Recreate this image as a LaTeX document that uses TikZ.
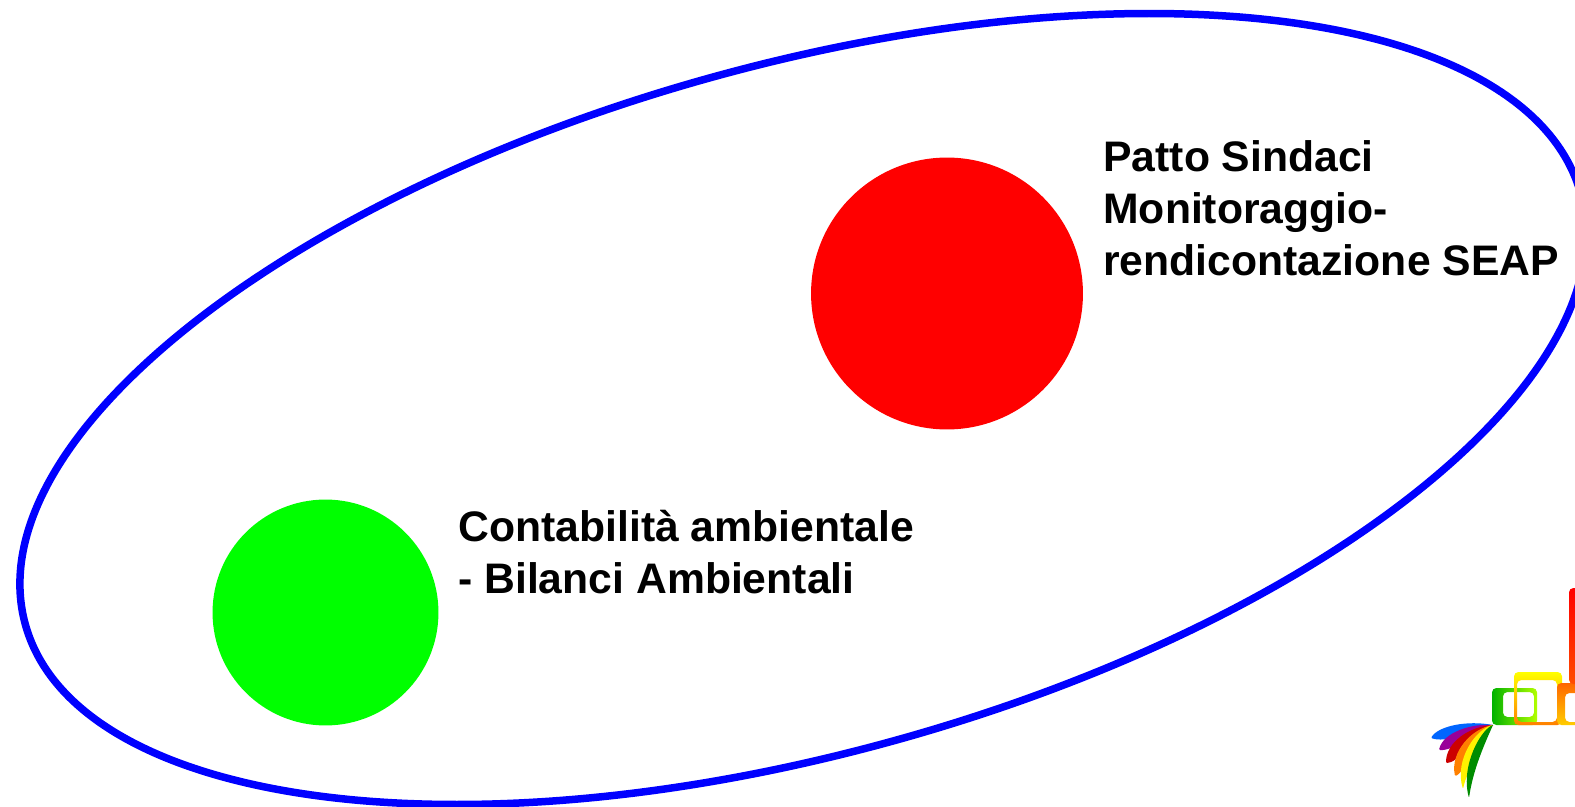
\documentclass[tikz,border=0pt]{standalone}
\usepackage{fontspec}
\setmainfont{Liberation Sans}
\usetikzlibrary{positioning}
\newcommand{\LogoFeather}[6]{%
  \fill[#1,rounded corners=.6pt] (1493,725) .. controls (#2) and (#3) .. (#4) .. controls (#5) and (#6) .. (1493,725);
}
\newcommand{\LogoFrame}[5]{%
  \shade[even odd rule,rounded corners=2.5pt,#5] (#1) rectangle (#2) (#3) rectangle (#4);
}
\begin{document}
\begin{tikzpicture}[x=.02cm,y=-.02cm,
    label text/.style={font=\bfseries\fontsize{24.3}{29.6}\selectfont,align=left,anchor=north west,inner sep=0pt},
    spot/.style={circle,minimum size=#1*.04cm,inner sep=0pt}]
    \useasboundingbox (0,0) rectangle (1575,807);
    \clip (0,0) rectangle (1575,807);
    \fill[white] (0,0) rectangle (1575,807);
    \draw[blue,line width=.15cm,rotate around={15.5:(803,409)}] (803,409) ellipse (807 and 344);
    \node[spot=136,fill=red] (sindaci) at (947,293.5) {};
    \node[spot=113,fill=green] (bilanci) at (325.5,612.5) {};
    \node[label text] (sindacitext) at (1103,140.5) {Patto Sindaci\\Monitoraggio-\\rendicontazione SEAP};
    \node[label text] (bilancitext) at (458,509.5) {Contabilità ambientale\\- Bilanci Ambientali};
    \LogoFeather{blue!60!cyan}{1467,720}{1438,726}{1431,738}{1446,743}{1467,733}
    \LogoFeather{violet!80!magenta}{1473,723}{1443,732}{1439,750}{1454,751}{1475,733}
    \LogoFeather{red!80!black}{1470,726}{1446,742}{1446,763}{1458,763}{1474,738}
    \LogoFeather{orange}{1472,728}{1450,752}{1455,776}{1464,773}{1478,740}
    \LogoFeather{yellow}{1476,728}{1454,760}{1463,789}{1467,771}{1482,740}
    \LogoFeather{green!55!black}{1482,728}{1460,765}{1469,798}{1473,770}{1484,745}
    \LogoFrame{1492,688}{1537,725}{1503,692}{1534,717}{left color=green!70!black,right color=yellow!70!green}
    \LogoFrame{1514,672}{1562,725}{1517,680}{1557,722}{top color=yellow,bottom color=orange}
    \LogoFrame{1557,683}{1590,725}{1565,693}{1590,722}{top color=orange!80!red,bottom color=yellow!60!orange}
    \shade[top color=red,bottom color=orange!60!red,rounded corners=2.5pt] (1569,588) rectangle (1590,684);
\end{tikzpicture}
\end{document}
